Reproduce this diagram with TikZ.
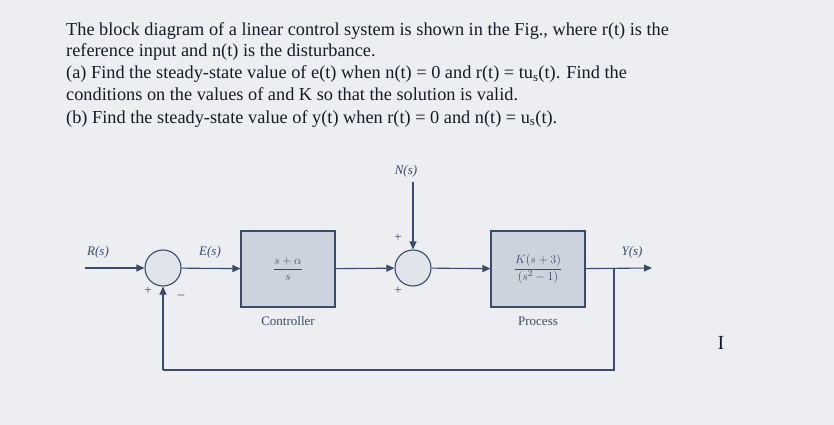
\documentclass[tikz,border=0pt]{standalone}
\usepackage{fontspec}
\setmainfont{Liberation Serif}
\usetikzlibrary{arrows.meta}
\definecolor{bg}{HTML}{ECEEF1}
\definecolor{ink}{HTML}{151B28}
\definecolor{dia}{HTML}{3A4A6A}
\definecolor{boxf}{HTML}{CDD3DD}
\begin{document}
\begin{tikzpicture}[x=1pt,y=-1pt,
  txt/.style={anchor=base west,inner sep=0,text=ink,font=\fontsize{18.3}{20}\selectfont},
  lbl/.style={inner sep=0,text=dia,font=\fontsize{13}{14}\selectfont},
  sig/.style={dia,line width=1.1pt,-{Triangle[length=8pt,width=7pt]}},
  ln/.style={dia,line width=1.1pt},
  sum/.style={circle,draw=dia,line width=1.1pt,fill=boxf!60,minimum size=36pt,inner sep=0},
  blk/.style={draw=dia,line width=1.1pt,fill=boxf,minimum width=94pt,minimum height=76pt,inner sep=0,text=dia,font=\fontsize{13}{14}\selectfont}]
\fill[bg] (0,0) rectangle (834,425);
\useasboundingbox (0,0) rectangle (834,425);
\node[txt] (t1) at (66,36) {The block diagram of a linear control system is shown in the Fig., where r(t) is the};
\node[txt] (t2) at (66,57) {reference input and n(t) is the disturbance.};
\node[txt] (t3) at (66,79) {(a) Find the steady-state value of e(t) when n(t) = 0 and r(t) = tu\textsubscript{s}(t). Find the};
\node[txt] (t4) at (66,101) {conditions on the values of and K so that the solution is valid.};
\node[txt] (t5) at (66,123) {(b) Find the steady-state value of y(t) when r(t) = 0 and n(t) = u\textsubscript{s}(t).};
\node[sum] (s1) at (163,268) {};
\node[sum] (s2) at (413,268) {};
\node[blk] (c) at (288,269) {$\displaystyle\frac{s+\alpha}{s}$};
\node[blk] (p) at (538,269) {$\displaystyle\frac{K(s+3)}{(s^2-1)}$};
\node[lbl] (cl) at (288,321) {Controller};
\node[lbl] (pl) at (538,321) {Process};
\coordinate (rin) at (85,268);
\coordinate (yout) at (652,268);
\coordinate (br) at (614,268);
\coordinate (fb1) at (614,370);
\coordinate (fb2) at (163,370);
\coordinate (ntop) at (413,182);
\node[lbl] (R) at (98,252) {\itshape R(s)};
\node[lbl] (E) at (210,252) {\itshape E(s)};
\node[lbl] (Y) at (632,252) {\itshape Y(s)};
\node[lbl] (N) at (406,171) {\itshape N(s)};
\node[lbl] (p1) at (148,291) {+};
\node[lbl] (m1) at (181,297) {--};
\node[lbl] (p2) at (398,238) {+};
\node[lbl] (p3) at (398,291) {+};
\draw[sig] (rin) -- (s1);
\draw[sig] (s1) -- (c);
\draw[sig] (c) -- (s2);
\draw[sig] (s2) -- (p);
\draw[sig] (p) -- (yout);
\draw[sig] (ntop) -- (s2);
\draw[ln] (br) -- (fb1) -- (fb2);
\draw[sig] (fb2) -- (s1);
\node[inner sep=0,text=ink,font=\fontsize{20}{20}\selectfont] (cur) at (721,343) {I};
\end{tikzpicture}
\end{document}
